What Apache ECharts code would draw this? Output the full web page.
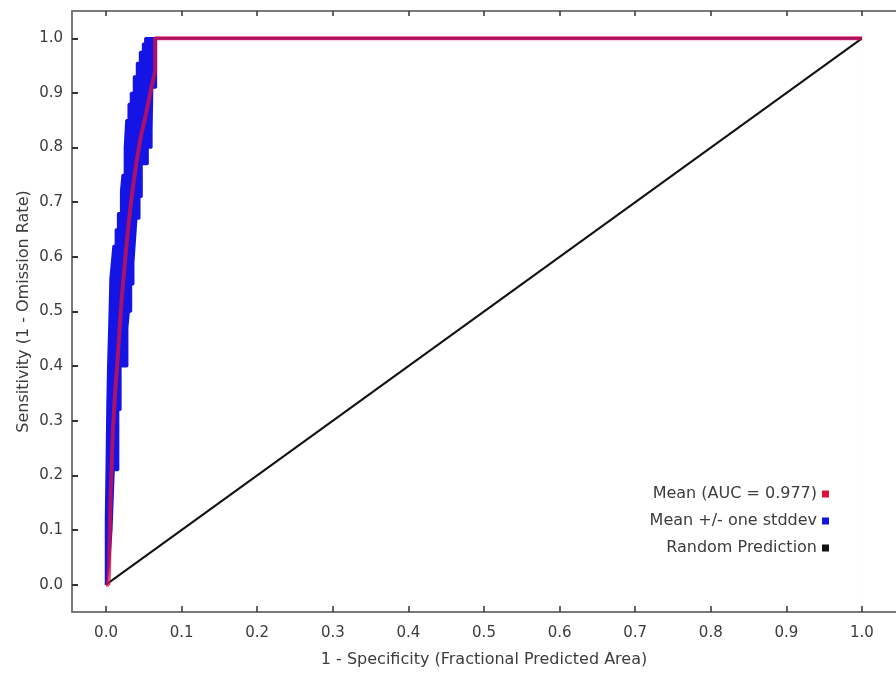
<!DOCTYPE html>
<html>
<head>
<meta charset="utf-8">
<script src="https://cdn.jsdelivr.net/npm/echarts@6/dist/echarts.min.js"></script>
<style>html,body{margin:0;padding:0;background:#fff;}#chart{width:896px;height:673px;}</style>
</head>
<body>
<div id="chart"></div>
<script>
// Tick values
var xTicks = [0, 0.1, 0.2, 0.3, 0.4, 0.5, 0.6, 0.7, 0.8, 0.9, 1.0];
var yTicks = [0, 0.1, 0.2, 0.3, 0.4, 0.5, 0.6, 0.7, 0.8, 0.9, 1.0];

// Mean ROC curve (1 - specificity, sensitivity)
var meanX = [0, 0.003, 0.004, 0.005, 0.006, 0.009, 0.012, 0.015, 0.018, 0.021, 0.025, 0.029, 0.034, 0.040, 0.046, 0.053, 0.060, 0.065, 0.065, 1.0];
var meanY = [0, 0.00, 0.02, 0.10, 0.16, 0.28, 0.35, 0.405, 0.47, 0.527, 0.59, 0.649, 0.71, 0.771, 0.82, 0.862, 0.91, 0.94, 1.0, 1.0];

// Mean + one stddev (upper / left edge of band)
var upperX = [0, 0, 0.001, 0.001, 0.002, 0.002, 0.003, 0.003, 0.005, 0.005, 0.006, 0.006, 0.008, 0.008, 0.010, 0.010, 0.013, 0.013, 0.016, 0.016, 0.020, 0.020, 0.022, 0.022, 0.025, 0.025, 0.027, 0.027, 0.030, 0.030, 0.033, 0.033, 0.037, 0.037, 0.041, 0.041, 0.045, 0.045, 0.049, 0.049, 0.052, 0.052, 1.0];
var upperY = [0, 0.12, 0.12, 0.22, 0.22, 0.33, 0.33, 0.40, 0.40, 0.50, 0.50, 0.56, 0.56, 0.59, 0.59, 0.62, 0.62, 0.65, 0.65, 0.68, 0.68, 0.72, 0.72, 0.75, 0.75, 0.80, 0.80, 0.85, 0.85, 0.88, 0.88, 0.90, 0.90, 0.93, 0.93, 0.955, 0.955, 0.975, 0.975, 0.99, 0.99, 1.0, 1.0];

// Mean - one stddev (lower / right edge of band)
var lowerX = [0, 0.004, 0.007, 0.010, 0.016, 0.016, 0.019, 0.019, 0.028, 0.028, 0.030, 0.030, 0.033, 0.033, 0.036, 0.036, 0.038, 0.038, 0.040, 0.040, 0.044, 0.044, 0.047, 0.047, 0.055, 0.055, 0.060, 0.060, 0.061, 0.061, 0.066, 0.066, 1.0];
var lowerY = [0, 0.04, 0.10, 0.21, 0.21, 0.32, 0.32, 0.40, 0.40, 0.47, 0.47, 0.50, 0.50, 0.55, 0.55, 0.59, 0.59, 0.63, 0.63, 0.67, 0.67, 0.71, 0.71, 0.77, 0.77, 0.80, 0.80, 0.83, 0.83, 0.91, 0.91, 1.0, 1.0];

// Random prediction diagonal
var randX = [0, 1];
var randY = [0, 1];

var names = ['Mean (AUC = 0.977)', 'Mean +/- one stddev', 'Random Prediction'];

function pairs(xs, ys) { return xs.map(function (x, i) { return [x, ys[i]]; }); }

var FONT = 'DejaVu Sans';
var TXT = '#3c3c3c';
var RED = '#e0103c';
var BLUE = '#1414e6';

var chart = echarts.init(document.getElementById('chart'), null, {renderer: 'canvas'});

var upperPts = pairs(upperX, upperY);
var lowerPts = pairs(lowerX, lowerY);

function axisCommon() {
  return {
    type: 'value', z: 10,
    axisLine: {show: true, onZero: false, lineStyle: {color: '#7a7a7a', width: 2}},
    splitLine: {show: false}
  };
}

var xBottom = Object.assign(axisCommon(), {
  position: 'bottom', min: -0.045, max: 1.045,
  axisTick: {show: true, inside: true, length: 6, customValues: xTicks, lineStyle: {color: '#333', width: 1.5}},
  axisLabel: {show: true, customValues: xTicks, margin: 14, color: TXT, fontSize: 15, fontFamily: FONT,
    formatter: function (v) { return v.toFixed(1); }},
  name: '1 - Specificity (Fractional Predicted Area)', nameLocation: 'middle', nameGap: 40,
  nameTextStyle: {color: TXT, fontSize: 16, fontFamily: FONT}
});
var xTop = Object.assign(axisCommon(), {
  position: 'top', min: -0.045, max: 1.045,
  axisTick: {show: true, inside: true, length: 5, customValues: xTicks, lineStyle: {color: '#333', width: 1.5}},
  axisLabel: {show: false}
});
var yLeft = Object.assign(axisCommon(), {
  position: 'left', min: -0.05, max: 1.05,
  axisTick: {show: true, inside: true, length: 6, customValues: yTicks, lineStyle: {color: '#333', width: 2}},
  axisLabel: {show: true, customValues: yTicks, margin: 9, color: TXT, fontSize: 15, fontFamily: FONT,
    formatter: function (v) { return v.toFixed(1); }},
  name: 'Sensitivity (1 - Omission Rate)', nameLocation: 'middle', nameGap: 40, nameRotate: 90,
  nameMoveOverlap: false,
  nameTextStyle: {color: TXT, fontSize: 16, fontFamily: FONT}
});

function lineSeries(name, data, color, width, z, extra) {
  return Object.assign({
    name: name, type: 'line', xAxisIndex: 0, yAxisIndex: 0, z: z,
    showSymbol: false, symbol: 'none', silent: true,
    data: data, lineStyle: {color: color, width: width}, itemStyle: {color: color}
  }, extra || {});
}

var option = {
  animation: false,
  backgroundColor: '#fff',
  grid: {left: 72, top: 11, width: 826, height: 601, containLabel: false, show: false},
  xAxis: [xBottom, xTop],
  yAxis: [yLeft],
  legend: {
    data: names, orient: 'vertical', right: 62, top: 481, align: 'right',
    icon: 'rect', itemWidth: 7, itemHeight: 7, itemGap: 11,
    textStyle: {color: TXT, fontSize: 16, fontFamily: FONT, lineHeight: 16},
    selectedMode: false
  },
  series: [
    // band fill: area under the upper edge ...
    lineSeries(names[1], upperPts, BLUE, 0, 1, {areaStyle: {color: BLUE, opacity: 1, origin: 'start'}, lineStyle: {width: 0, color: BLUE}}),
    // ... masked below the lower edge
    lineSeries('band-mask', lowerPts, '#ffffff', 0, 2, {areaStyle: {color: '#ffffff', opacity: 1, origin: 'start'}, lineStyle: {width: 0, color: '#ffffff'}}),
    // band outlines
    lineSeries(names[1], upperPts, BLUE, 2.5, 3),
    lineSeries(names[1], lowerPts, BLUE, 2.5, 3),
    // random prediction
    lineSeries(names[2], pairs(randX, randY), '#111111', 2, 4),
    // mean
    lineSeries(names[0], pairs(meanX, meanY), RED, 4, 5, {lineStyle: {color: RED, width: 4, opacity: 0.75}})
  ]
};
chart.setOption(option);
</script>
</body>
</html>
